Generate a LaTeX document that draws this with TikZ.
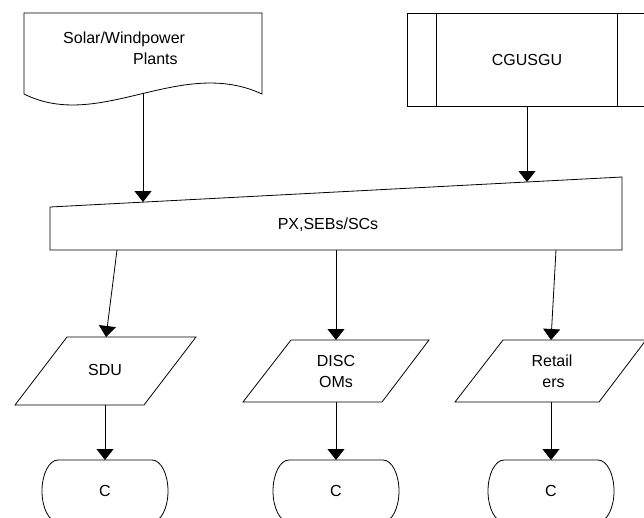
\documentclass[tikz,border=0pt]{standalone}
\usepackage{fontspec}
\setmainfont{Liberation Sans}
\usetikzlibrary{arrows.meta}
\begin{document}
\begin{tikzpicture}[x=1pt,y=-1pt,
  shp/.style={draw=black, line width=0.8pt, line join=miter},
  lbl/.style={font=\fontsize{16}{21}\selectfont, align=center, inner sep=0pt},
  conn/.style={draw=black, line width=0.8pt, -{Triangle[width=17pt,length=11pt]}}]
\useasboundingbox (0,0) rectangle (644,517);
\clip (0,0) rectangle (644,517);
% --- shapes ---
% document (Solar)
\draw[shp] (24,13) -- (262,13) -- (262,94) .. controls (180,56) and (100,132) .. (24,94) -- cycle;
\node[lbl, align=left, anchor=west] (solar) at (63,48.3) {Solar/Windpower\\\hspace*{70pt}Plants};
% predefined process (CGUSGU)
\draw[shp] (407,13) rectangle (650,106);
\draw[shp] (436,13) -- (436,106);
\draw[shp] (617,13) -- (617,106);
\node[lbl] (cgu) at (527,60) {CGUSGU};
% manual input (PX)
\draw[shp] (50,207) -- (622,177) -- (622,250) -- (50,250) -- cycle;
\node[lbl, anchor=base] (px) at (328,229) {PX,SEBs/SCs};
% parallelograms
\draw[shp] (67,337) -- (196,337) -- (144,405) -- (15,405) -- cycle;
\node[lbl] (sdu) at (105,370) {SDU};
\draw[shp] (291,340) -- (429,340) -- (382,402) -- (243,402) -- cycle;
\node[lbl] (disc) at (336,371.5) {DISC\\OMs};
\draw[shp] (503,340) -- (646,340) -- (599,402) -- (455,402) -- cycle;
\node[lbl] (ret) at (552,371.5) {Retail\\\hspace*{3pt}ers};
% terminals
\foreach \cx/\nm in {105/c1, 336/c2, 551/c3}{
  \draw[shp] (\cx-47,460) -- (\cx+47,460)
     arc[start angle=-90, end angle=90, x radius=16, y radius=31]
     -- (\cx-47,522)
     arc[start angle=90, end angle=270, x radius=16, y radius=31] -- cycle;
  \node[lbl] (\nm) at (\cx,491) {C};
}
% --- connector end points ---
\coordinate (solarout) at (143,93);
\coordinate (pxin1) at (143,202);
\coordinate (cguout) at (527,106);
\coordinate (pxin2) at (527,182);
\coordinate (pxout1) at (117,250);
\coordinate (sduin) at (106,337);
\coordinate (pxout2) at (336,250);
\coordinate (discin) at (336,340);
\coordinate (pxout3) at (556,250);
\coordinate (retin) at (551,340);
\coordinate (sduout) at (105,405);
\coordinate (c1in) at (105,460);
\coordinate (discout) at (336,402);
\coordinate (c2in) at (336,460);
\coordinate (retout) at (551,402);
\coordinate (c3in) at (551,460);
% --- connectors ---
\draw[conn] (solarout) -- (pxin1);
\draw[conn] (cguout) -- (pxin2);
\draw[conn] (pxout1) -- (sduin);
\draw[conn] (pxout2) -- (discin);
\draw[conn] (pxout3) -- (retin);
\draw[conn] (sduout) -- (c1in);
\draw[conn] (discout) -- (c2in);
\draw[conn] (retout) -- (c3in);
\end{tikzpicture}
\end{document}
